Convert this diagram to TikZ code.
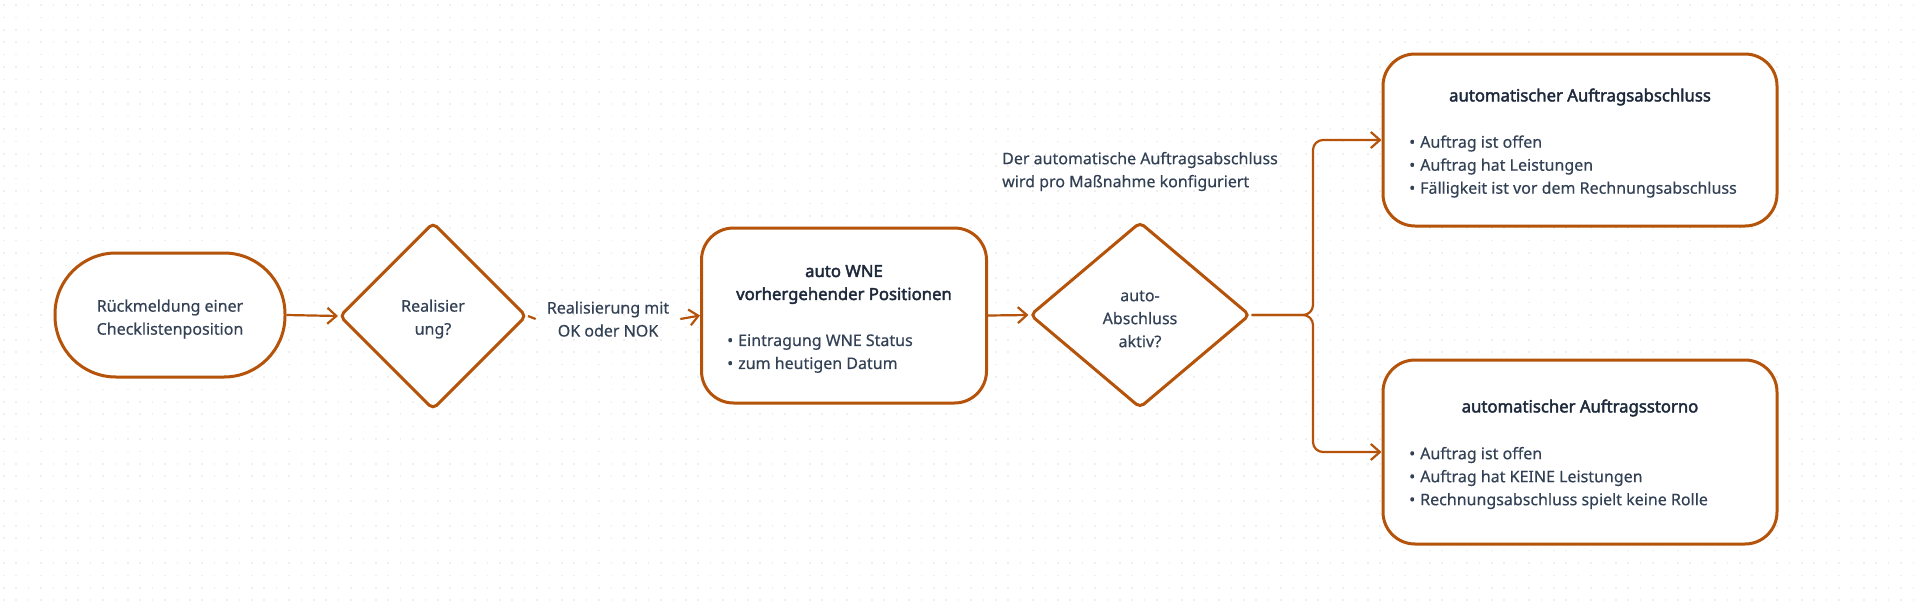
\documentclass[tikz,border=0pt]{standalone}
\usepackage{fontspec}
\setmainfont{Noto Sans}[FakeBold=0.4]
\newfontfamily\ttlfont{Noto Sans}[FakeBold=2.4]
\usetikzlibrary{shapes.geometric,arrows.meta}
\definecolor{accent}{HTML}{B45309}
\definecolor{txtc}{HTML}{334155}
\definecolor{ttlc}{HTML}{1E293B}
\definecolor{gridc}{HTML}{EFEFEF}
\begin{document}
\begin{tikzpicture}[x=1pt,y=-1pt,
  base/.style={font=\fontsize{16}{23}\selectfont, text=txtc},
  shapebox/.style={draw=accent, line width=3pt, fill=white, inner sep=0pt},
  term/.style={shapebox, rectangle, rounded corners=61pt, minimum width=230pt, minimum height=124pt},
  decide/.style={shapebox, diamond, rounded corners=5pt},
  card/.style={shapebox, rectangle, rounded corners=32pt},
  inner/.style={base, align=center, inner sep=0pt},
  ttl/.style={font=\fontsize{16.7}{23}\ttlfont\selectfont, text=ttlc, align=center, inner sep=0pt},
  blist/.style={base, align=left, inner sep=0pt, anchor=west},
  plain/.style={base, align=left, inner sep=0pt},
  conn/.style={draw=accent, line width=2.2pt},
  arr/.style={conn, -{Straight Barb[length=9pt,width=16pt]}},
]
\useasboundingbox (0,0) rectangle (1920,600);
\fill[white] (0,0) rectangle (1920,600);
% dot grid
\foreach \r in {0,...,48}{
  \draw[gridc, line width=1.5pt, dash pattern=on 1.5pt off 10.9pt] (3,{5+\r*12.4}) -- (1920,{5+\r*12.4});
}
% shapes
\node[term] (start) at (170,315) {};
\node[inner] (startT) at (170,319) {Rückmeldung einer\\Checklistenposition};
\node[decide, minimum width=187pt, minimum height=187pt] (d1) at (433,316) {};
\node[inner] (d1T) at (433,319) {Realisier\\ung?};
\node[base, align=center, inner xsep=11pt, inner ysep=0pt] (lab) at (608,319) {Realisierung mit\\OK oder NOK};
\node[card, minimum width=285pt, minimum height=175pt] (b2) at (844,315.5) {};
\node[ttl] (b2t) at (844,284.5) {auto WNE\\vorhergehender Positionen};
\node[blist] (b2l) at (727,353.5) {\textbullet\hspace{5pt}Eintragung WNE Status\\\textbullet\hspace{5pt}zum heutigen Datum};
\node[decide, minimum width=220pt, minimum height=186pt] (d2) at (1140,315) {};
\node[inner] (d2T) at (1140,319) {auto-\\Abschluss\\aktiv?};
\node[plain, anchor=west] (note) at (1002,171.5) {Der automatische Auftragsabschluss\\wird pro Maßnahme konfiguriert};
\node[card, minimum width=394pt, minimum height=172pt] (b3) at (1580,140) {};
\node[ttl] (b3t) at (1580,97) {automatischer Auftragsabschluss};
\node[blist] (b3l) at (1409,166.5) {\textbullet\hspace{5pt}Auftrag ist offen\\\textbullet\hspace{5pt}Auftrag hat Leistungen\\\textbullet\hspace{5pt}Fälligkeit ist vor dem Rechnungsabschluss};
\node[card, minimum width=394pt, minimum height=184pt] (b4) at (1580,452) {};
\node[ttl] (b4t) at (1580,408) {automatischer Auftragsstorno};
\node[blist] (b4l) at (1409,478) {\textbullet\hspace{5pt}Auftrag ist offen\\\textbullet\hspace{5pt}Auftrag hat KEINE Leistungen\\\textbullet\hspace{5pt}Rechnungsabschluss spielt keine Rolle};
\coordinate (j) at (1313,315);
% connectors
\draw[arr] (start.east) -- (d1.west);
\draw[conn] (d1.east) -- (lab.west);
\draw[arr] (lab.east) -- (b2.west);
\draw[arr] (b2.east) -- (d2.west);
\draw[arr, rounded corners=10pt] (d2.east) -- (j) |- (b3.west);
\draw[arr, rounded corners=10pt] (d2.east) -- (j) |- (b4.west);
\end{tikzpicture}
\end{document}
